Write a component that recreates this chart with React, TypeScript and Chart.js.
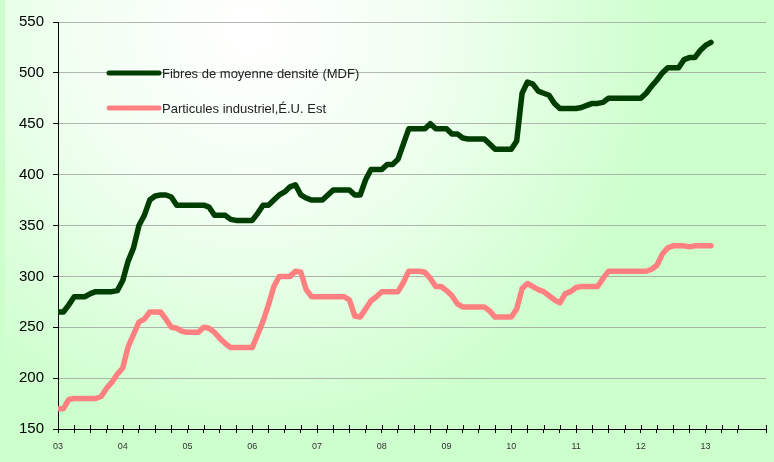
import React, { useEffect, useRef } from "react";
import { Chart, registerables } from "chart.js";

Chart.register(...registerables);

// Monthly observations, Jan 2003 .. Feb 2013
const mdfLabel = "Fibres de moyenne densité (MDF)";
const particleLabel = "Particules industriel,É.U. Est";

const mdf = [
  265, 265, 272, 280, 280, 280, 283, 285, 285, 285, 285, 286,
  296, 315, 328, 350, 360, 375, 379, 380, 380, 378, 370, 370,
  370, 370, 370, 370, 368, 360, 360, 360, 356, 355, 355, 355,
  355, 362, 370, 370, 375, 380, 383, 388, 390, 380, 377, 375,
  375, 375, 380, 385, 385, 385, 385, 380, 380, 395, 405, 405,
  405, 410, 410, 415, 430, 445, 445, 445, 445, 450, 445, 445,
  445, 440, 440, 436, 435, 435, 435, 435, 430, 425, 425, 425,
  425, 433, 480, 491, 489, 482, 480, 478, 470, 465, 465, 465,
  465, 466, 468, 470, 470, 471, 475, 475, 475, 475, 475, 475,
  475, 480, 487, 493, 500, 505, 505, 505, 513, 515, 515, 522,
  527, 530,
];

const particles = [
  170, 170, 179, 180, 180, 180, 180, 180, 182, 190, 196, 204,
  210, 231, 243, 255, 258, 265, 265, 265, 258, 250, 249, 246,
  245, 245, 245, 250, 249, 245, 239, 234, 230, 230, 230, 230,
  230, 243, 256, 272, 290, 300, 300, 300, 305, 304, 287, 280,
  280, 280, 280, 280, 280, 280, 277, 261, 260, 268, 276, 280,
  285, 285, 285, 285, 294, 305, 305, 305, 304, 298, 290, 290,
  286, 281, 273, 270, 270, 270, 270, 270, 266, 260, 260, 260,
  260, 268, 288, 293, 290, 287, 285, 281, 277, 274, 283, 285,
  289, 290, 290, 290, 290, 298, 305, 305, 305, 305, 305, 305,
  305, 305, 307, 311, 322, 328, 330, 330, 330, 329, 330, 330,
  330, 330,
];

const yearLabels = ["03", "04", "05", "06", "07", "08", "09", "10", "11", "12", "13"];

const W = 774;
const H = 462;

const bgPlugin = {
  id: "bg",
  beforeDraw(chart: any) {
    const ctx = chart.ctx;
    ctx.save();
    const g = ctx.createRadialGradient(250, 30, 0, 250, 30, 500);
    g.addColorStop(0, "#ffffff");
    g.addColorStop(0.35, "#f2fff2");
    g.addColorStop(0.85, "#ccffcc");
    g.addColorStop(1, "#ccffcc");
    ctx.fillStyle = g;
    ctx.fillRect(0, 0, chart.width, chart.height);
    ctx.fillStyle = "#ccffcc";
    ctx.fillRect(0, 0, 5, chart.height);
    ctx.restore();
  },
};

const tickPlugin = {
  id: "crossTicks",
  afterDraw(chart: any) {
    const ctx = chart.ctx;
    const xs = chart.scales.x;
    const y0 = xs.top;
    ctx.save();
    ctx.strokeStyle = "#000";
    ctx.lineWidth = 1;
    ctx.beginPath();
    xs.ticks.forEach((t: any) => {
      const px = Math.round(xs.getPixelForValue(t.value)) + 0.5;
      ctx.moveTo(px, y0 - 4);
      ctx.lineTo(px, y0);
    });
    ctx.stroke();
    ctx.restore();
  },
};

const legendPlugin = {
  id: "customLegend",
  afterDatasetsDraw(chart: any) {
    const ctx = chart.ctx;
    const rows = [73, 108];
    ctx.save();
    chart.data.datasets.forEach((ds: any, i: number) => {
      const y = rows[i];
      ctx.strokeStyle = ds.borderColor;
      ctx.lineWidth = 5;
      ctx.lineCap = "round";
      ctx.beginPath();
      ctx.moveTo(109, y);
      ctx.lineTo(159, y);
      ctx.stroke();
      ctx.fillStyle = "#222";
      ctx.font = "13px 'Liberation Sans', Arial, sans-serif";
      ctx.textBaseline = "middle";
      ctx.textAlign = "left";
      ctx.fillText(ds.label, 162, y + 1);
    });
    ctx.restore();
  },
};

export default function App() {
  const ref = useRef<HTMLCanvasElement>(null);

  useEffect(() => {
    if (!ref.current) return;
    const chart = new Chart(ref.current, {
      type: "line",
      data: {
        datasets: [
          {
            label: mdfLabel,
            data: mdf.map((v, i) => ({ x: i, y: v })),
            borderColor: "#003d00",
            borderWidth: 5.5,
            pointRadius: 0,
            tension: 0,
            borderCapStyle: "round",
            borderJoinStyle: "round",
            fill: false,
          },
          {
            label: particleLabel,
            data: particles.map((v, i) => ({ x: i, y: v })),
            borderColor: "#ff8080",
            borderWidth: 5.5,
            pointRadius: 0,
            tension: 0,
            borderCapStyle: "round",
            borderJoinStyle: "round",
            fill: false,
          },
        ],
      },
      options: {
        responsive: false,
        animation: false,
        devicePixelRatio: 1,
        layout: { padding: { top: 22, left: 0, right: 0, bottom: 0 } },
        plugins: {
          legend: { display: false },
          tooltip: { enabled: false },
        },
        scales: {
          x: {
            type: "linear",
            min: 0,
            max: 131.2,
            afterFit(scale: any) {
              scale.height = 33;
            },
            border: { color: "#000", width: 1 },
            grid: {
              drawOnChartArea: false,
              drawTicks: true,
              tickLength: 4,
              tickColor: "#000",
            },
            ticks: {
              stepSize: 3,
              autoSkip: false,
              maxRotation: 0,
              minRotation: 0,
              padding: 8,
              color: "#333",
              font: { size: 9, family: "'Liberation Sans', Arial, sans-serif" },
              callback: (v: any) => {
                const n = Number(v);
                if (n % 12 !== 0) return "";
                return yearLabels[n / 12] ?? "";
              },
            },
          },
          y: {
            min: 150,
            max: 550,
            afterFit(scale: any) {
              scale.width = 58;
            },
            border: { color: "#000", width: 1 },
            grid: {
              color: "rgba(150,150,150,0.7)",
              lineWidth: 1,
              tickLength: 5,
              tickColor: "#000",
              drawTicks: true,
            },
            ticks: {
              stepSize: 50,
              padding: 9,
              color: "#000",
              font: { size: 15, family: "'Liberation Sans', Arial, sans-serif" },
            },
          },
        },
      },
      plugins: [bgPlugin, tickPlugin, legendPlugin],
    } as any);
    return () => chart.destroy();
  }, []);

  return (
    <div style={{ position: "absolute", left: 0, top: 0, width: W, height: H }}>
      <canvas ref={ref} width={W} height={H} style={{ width: W, height: H, display: "block" }} />
    </div>
  );
}
